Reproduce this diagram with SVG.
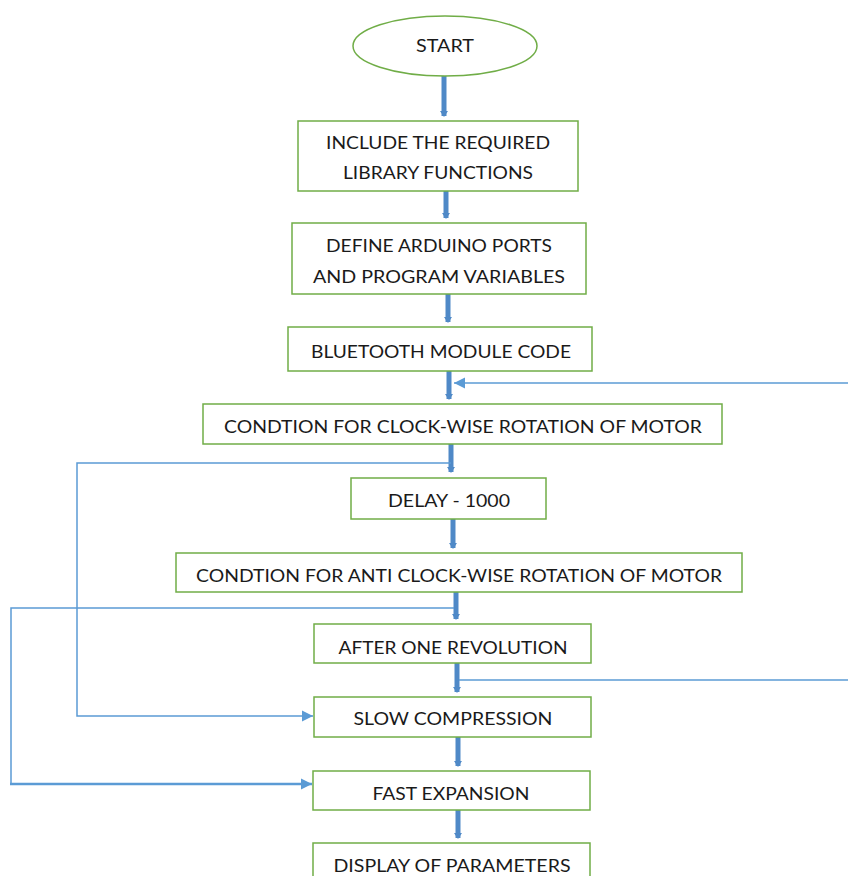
<svg xmlns="http://www.w3.org/2000/svg" width="848" height="876" viewBox="0 0 848 876">
<style>
.box{fill:#fff;stroke:#70AD47;stroke-width:1.5}
.t{font-family:Lato,"Open Sans","Liberation Sans",sans-serif;font-size:18px;fill:#1a1a1a;text-anchor:middle}
.thick{stroke:#4F89C7;stroke-width:5;fill:none}
.thin{stroke:#5B9BD5;stroke-width:1.5;fill:none}
</style>
<defs>
<marker id="th" markerUnits="userSpaceOnUse" markerWidth="10" markerHeight="10" refX="5" refY="5" orient="auto">
<path d="M0,1 L6,5 L0,9 Z" fill="#4F89C7"/>
</marker>
<marker id="tn" markerUnits="userSpaceOnUse" markerWidth="14" markerHeight="14" refX="11" refY="7" orient="auto">
<path d="M0,1.5 L11,7 L0,12.5 Z" fill="#5B9BD5"/>
</marker>
</defs>
<g id="connectors">
<line class="thick" x1="444" y1="76" x2="444" y2="116" marker-end="url(#th)"/>
<line class="thick" x1="446" y1="191" x2="446" y2="218" marker-end="url(#th)"/>
<line class="thick" x1="448" y1="294" x2="448" y2="322" marker-end="url(#th)"/>
<line class="thick" x1="449" y1="371" x2="449" y2="399" marker-end="url(#th)"/>
<line class="thick" x1="451" y1="444" x2="451" y2="472" marker-end="url(#th)"/>
<line class="thick" x1="453" y1="519" x2="453" y2="548" marker-end="url(#th)"/>
<line class="thick" x1="456" y1="592" x2="456" y2="619" marker-end="url(#th)"/>
<line class="thick" x1="457" y1="663" x2="457" y2="692" marker-end="url(#th)"/>
<line class="thick" x1="458" y1="737" x2="458" y2="766" marker-end="url(#th)"/>
<line class="thick" x1="458" y1="810" x2="458" y2="838" marker-end="url(#th)"/>
<path class="thin" d="M848,383 H454" marker-end="url(#tn)"/>
<path class="thin" d="M451,463 H77 V716 H313" marker-end="url(#tn)"/>
<path class="thin" d="M454,608 H11 V784"/>
<path class="thin" style="stroke-width:2.5" d="M10,784 H312" marker-end="url(#tn)"/>
<path class="thin" d="M459,680 H848"/>
</g>
<g id="start">
<ellipse cx="445" cy="46" rx="92" ry="30" fill="#fff" stroke="#70AD47" stroke-width="1.5"/>
<text class="t" x="445" y="52" textLength="58" lengthAdjust="spacingAndGlyphs">START</text>
</g>
<g id="include">
<rect class="box" x="298" y="121" width="280" height="70"/>
<text class="t" x="438" y="149" textLength="224" lengthAdjust="spacingAndGlyphs">INCLUDE THE REQUIRED</text>
<text class="t" x="438" y="179" textLength="190" lengthAdjust="spacingAndGlyphs">LIBRARY FUNCTIONS</text>
</g>
<g id="define">
<rect class="box" x="292" y="223" width="294" height="71"/>
<text class="t" x="439" y="252" textLength="226" lengthAdjust="spacingAndGlyphs">DEFINE ARDUINO PORTS</text>
<text class="t" x="439" y="283" textLength="252" lengthAdjust="spacingAndGlyphs">AND PROGRAM VARIABLES</text>
</g>
<g id="bluetooth">
<rect class="box" x="288" y="327" width="304" height="44"/>
<text class="t" x="441" y="358" textLength="260" lengthAdjust="spacingAndGlyphs">BLUETOOTH MODULE CODE</text>
</g>
<g id="clockwise">
<rect class="box" x="203" y="404" width="519" height="40"/>
<text class="t" x="463" y="433" textLength="478" lengthAdjust="spacingAndGlyphs">CONDTION FOR CLOCK-WISE ROTATION OF MOTOR</text>
</g>
<g id="delay">
<rect class="box" x="351" y="478" width="195" height="41"/>
<text class="t" x="449" y="507" textLength="122" lengthAdjust="spacingAndGlyphs">DELAY - 1000</text>
</g>
<g id="anticlockwise">
<rect class="box" x="176" y="553" width="566" height="39"/>
<text class="t" x="459" y="582" textLength="526" lengthAdjust="spacingAndGlyphs">CONDTION FOR ANTI CLOCK-WISE ROTATION OF MOTOR</text>
</g>
<g id="revolution">
<rect class="box" x="314" y="624" width="277" height="39"/>
<text class="t" x="453" y="654" textLength="229" lengthAdjust="spacingAndGlyphs">AFTER ONE REVOLUTION</text>
</g>
<g id="slow">
<rect class="box" x="314" y="697" width="277" height="40"/>
<text class="t" x="453" y="725" textLength="199" lengthAdjust="spacingAndGlyphs">SLOW COMPRESSION</text>
</g>
<g id="fast">
<rect class="box" x="313" y="771" width="277" height="39"/>
<text class="t" x="451" y="800" textLength="157" lengthAdjust="spacingAndGlyphs">FAST EXPANSION</text>
</g>
<g id="display">
<rect class="box" x="313" y="843" width="277" height="40"/>
<text class="t" x="452" y="872" textLength="237" lengthAdjust="spacingAndGlyphs">DISPLAY OF PARAMETERS</text>
</g>
</svg>
